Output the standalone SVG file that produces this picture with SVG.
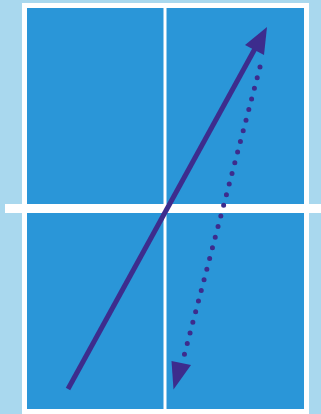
<svg xmlns="http://www.w3.org/2000/svg" width="321" height="414" viewBox="0 0 321 414">
<style>
.arrow{stroke:#3d2c8d;fill:none;stroke-width:5}
.head{fill:#3d2c8d}
</style>
<rect x="0" y="0" width="321" height="414" fill="#a9d8ee"/>
<g id="table">
<rect x="22" y="3" width="287" height="411" fill="#ffffff"/>
<rect x="27" y="8" width="277" height="401" fill="#2a96d8"/>
<rect x="163.5" y="8" width="3" height="401" fill="#ffffff"/>
</g>
<g id="net">
<rect x="5" y="204" width="316" height="9" fill="#ffffff"/>
</g>
<g id="connectors">
<line class="arrow" x1="68" y1="389" x2="257" y2="45"/>
<polygon class="head" points="267,27 245,45 264,55"/>
<line class="arrow" x1="260" y1="67" x2="184" y2="356" stroke-dasharray="0 11" stroke-linecap="round" stroke-width="5.5"/>
<polygon class="head" points="173.5,389.5 171.5,361 191,365"/>
</g>
</svg>
